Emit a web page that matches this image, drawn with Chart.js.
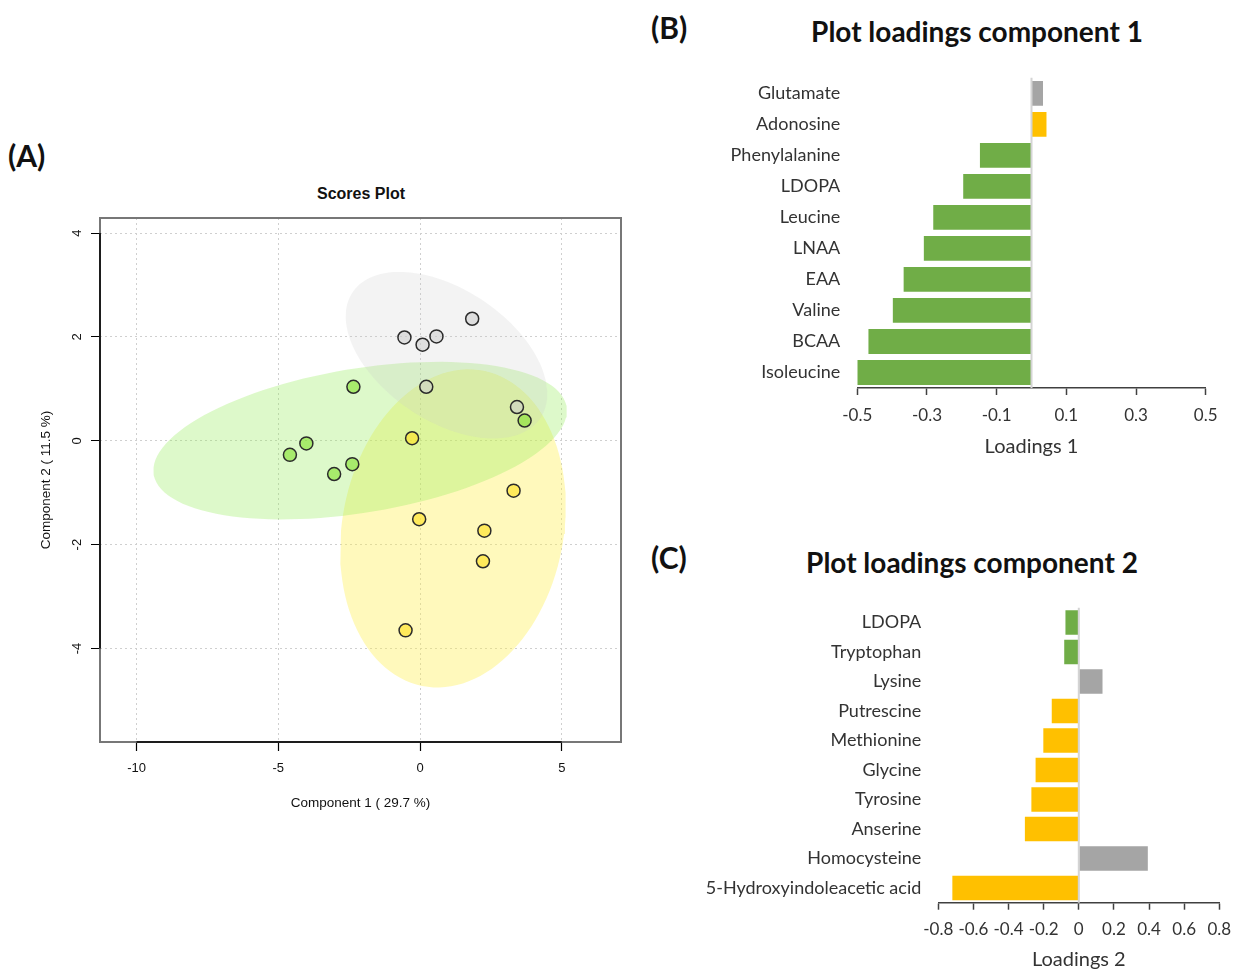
<!DOCTYPE html>
<html>
<head>
<meta charset="utf-8">
<script src="https://cdn.jsdelivr.net/npm/chart.js@4.4.1/dist/chart.umd.min.js"></script>
<style>
  body { margin: 0; background: #fff; width: 1248px; height: 972px; position: relative; overflow: hidden; }
  canvas { position: absolute; }
  .txt { position: absolute; white-space: nowrap; color: #111; }
  .panel { font: bold 30px Lato, sans-serif; line-height: 34px; }
  .head { font: bold 28px Lato, sans-serif; line-height: 34px; width: 500px; text-align: center; }
</style>
</head>
<body>
<div class="txt panel" style="left:8px;top:138px">(A)</div>
<div class="txt panel" style="left:651px;top:10px">(B)</div>
<div class="txt panel" style="left:651px;top:540px">(C)</div>
<div class="txt" style="left:261px;top:184px;width:200px;text-align:center;font:bold 16px 'Liberation Sans',Arial,sans-serif;line-height:20px">Scores Plot</div>
<div class="txt head" style="left:727px;top:14px">Plot loadings component 1</div>
<div class="txt head" style="left:722px;top:545px">Plot loadings component 2</div>

<canvas id="scores" width="640" height="660" style="left:0;top:170px"></canvas>
<canvas id="load1" width="608" height="420" style="left:640px;top:50px"></canvas>
<canvas id="load2" width="608" height="392" style="left:640px;top:580px"></canvas>

<script>
// (A) scores plot, one pair of arrays per group
const scoreXTicks = [-10, -5, 0, 5];
const scoreYTicks = [-4, -2, 0, 2, 4];
const greyX = [-0.55, 0.09, 0.58, 1.84, 0.22, 3.42];
const greyY = [1.99, 1.85, 2.01, 2.35, 1.04, 0.65];
const greenX = [-2.35, -4.01, -4.59, -3.03, -2.39, 3.69];
const greenY = [1.04, -0.05, -0.27, -0.64, -0.45, 0.39];
const yellowX = [-0.28, 3.30, -0.03, 2.27, 2.22, -0.51];
const yellowY = [0.05, -0.96, -1.51, -1.73, -2.32, -3.65];

// (B) loadings component 1
const load1Names = ['Glutamate', 'Adonosine', 'Phenylalanine', 'LDOPA', 'Leucine', 'LNAA', 'EAA', 'Valine', 'BCAA', 'Isoleucine'];
const load1Values = [0.033, 0.043, -0.148, -0.196, -0.282, -0.309, -0.367, -0.398, -0.468, -0.5];
const load1Groups = ['grey', 'yellow', 'green', 'green', 'green', 'green', 'green', 'green', 'green', 'green'];
const load1Ticks = [-0.5, -0.3, -0.1, 0.1, 0.3, 0.5];

// (C) loadings component 2
const load2Names = ['LDOPA', 'Tryptophan', 'Lysine', 'Putrescine', 'Methionine', 'Glycine', 'Tyrosine', 'Anserine', 'Homocysteine', '5-Hydroxyindoleacetic acid'];
const load2Values = [-0.076, -0.083, 0.135, -0.154, -0.202, -0.246, -0.270, -0.307, 0.393, -0.72];
const load2Groups = ['green', 'green', 'grey', 'yellow', 'yellow', 'yellow', 'yellow', 'yellow', 'grey', 'yellow'];
const load2Ticks = [-0.8, -0.6, -0.4, -0.2, 0, 0.2, 0.4, 0.6, 0.8];

const barColors = { green: '#70ad47', yellow: '#ffc000', grey: '#a5a5a5' };

// 95% confidence ellipse, same as R ellipse::ellipse(cov, centre, level = 0.95)
const t95 = Math.sqrt(5.991465);
function ellipsePoints(xs, ys) {
  const n = xs.length;
  const mx = xs.reduce((a, b) => a + b, 0) / n;
  const my = ys.reduce((a, b) => a + b, 0) / n;
  let sxx = 0, syy = 0, sxy = 0;
  for (let i = 0; i < n; i++) {
    sxx += (xs[i] - mx) ** 2;
    syy += (ys[i] - my) ** 2;
    sxy += (xs[i] - mx) * (ys[i] - my);
  }
  const sx = Math.sqrt(sxx / (n - 1)), sy = Math.sqrt(syy / (n - 1));
  const d = Math.acos((sxy / (n - 1)) / (sx * sy));
  const pts = [];
  for (let i = 0; i <= 120; i++) {
    const a = 2 * Math.PI * i / 120;
    pts.push({ x: t95 * sx * Math.cos(a + d / 2) + mx, y: t95 * sy * Math.cos(a - d / 2) + my });
  }
  return pts;
}

function scoreGroup(xs, ys, fill) {
  return {
    data: xs.map((x, i) => ({ x, y: ys[i] })),
    backgroundColor: fill, borderColor: '#2b2b2b', borderWidth: 1.5,
    pointRadius: 6.5
  };
}
function scoreEllipse(xs, ys, fill) {
  return {
    data: ellipsePoints(xs, ys), showLine: true, fill: 'shape',
    backgroundColor: fill, borderColor: 'transparent', borderWidth: 0,
    pointRadius: 0, tension: 0
  };
}

// box + axis lines in base R style
const rFrame = {
  id: 'rFrame',
  afterDatasetsDraw(chart) {
    const { ctx, chartArea: a, scales: { x, y } } = chart;
    ctx.save();
    ctx.strokeStyle = '#777';
    ctx.lineWidth = 2;
    ctx.strokeRect(a.left, a.top, a.right - a.left, a.bottom - a.top);
    ctx.strokeStyle = '#000';
    ctx.lineWidth = 1.5;
    ctx.beginPath();
    ctx.moveTo(x.getPixelForValue(scoreXTicks[0]), a.bottom);
    ctx.lineTo(x.getPixelForValue(scoreXTicks[scoreXTicks.length - 1]), a.bottom);
    ctx.moveTo(a.left, y.getPixelForValue(scoreYTicks[0]));
    ctx.lineTo(a.left, y.getPixelForValue(scoreYTicks[scoreYTicks.length - 1]));
    ctx.stroke();
    ctx.restore();
  }
};

const rFont = { family: "'Liberation Sans', Arial, sans-serif", size: 13 };
const rLabelFont = { family: "'Liberation Sans', Arial, sans-serif", size: 13.5 };

new Chart(document.getElementById('scores'), {
  type: 'scatter',
  data: {
    datasets: [
      scoreGroup(greyX, greyY, 'rgba(205,205,205,0.55)'),
      scoreGroup(greenX, greenY, 'rgba(130,225,45,0.6)'),
      scoreGroup(yellowX, yellowY, 'rgba(255,228,40,0.65)'),
      scoreEllipse(greyX, greyY, 'rgba(200,200,200,0.22)'),
      scoreEllipse(greenX, greenY, 'rgba(150,235,90,0.32)'),
      scoreEllipse(yellowX, yellowY, 'rgba(255,240,80,0.38)')
    ]
  },
  options: {
    responsive: false, animation: false, devicePixelRatio: 1,
    layout: { padding: { left: 0, top: 48, right: 19, bottom: 0 } },
    plugins: { legend: { display: false }, tooltip: { enabled: false } },
    scales: {
      x: {
        type: 'linear', min: -11.29, max: 7.09,
        afterBuildTicks: s => { s.ticks = scoreXTicks.map(v => ({ value: v })); },
        afterFit: s => { s.height = 88; },
        border: { display: false, dash: [2, 3] },
        grid: { color: '#cfcfcf', tickColor: '#000', tickBorderDash: [1, 0], tickLength: 9, tickWidth: 1.2 },
        ticks: { color: '#111', font: rFont, padding: 10, maxRotation: 0 },
        title: { display: true, text: 'Component 1 ( 29.7 %)', color: '#111', font: rLabelFont, padding: { top: 0, bottom: 19 } }
      },
      y: {
        type: 'linear', min: -5.80, max: 4.29,
        afterBuildTicks: s => { s.ticks = scoreYTicks.map(v => ({ value: v })); },
        afterFit: s => { s.width = 100; },
        border: { display: false, dash: [2, 3] },
        grid: { color: '#cfcfcf', tickColor: '#000', tickBorderDash: [1, 0], tickLength: 9, tickWidth: 1.2 },
        ticks: { color: '#111', font: rFont, padding: 8, minRotation: 90, maxRotation: 90, crossAlign: 'center' },
        title: { display: true, text: 'Component 2 ( 11.5 %)', color: '#111', font: rLabelFont, padding: { top: 38, bottom: 0 } }
      }
    }
  },
  plugins: [rFrame]
});

// vertical line at zero, like the Excel category axis
const zeroLine = {
  id: 'zeroLine',
  afterDatasetsDraw(chart) {
    const { ctx, chartArea: a, scales: { x } } = chart;
    const px = x.getPixelForValue(0);
    ctx.save();
    ctx.strokeStyle = '#d4d4d4';
    ctx.lineWidth = 2;
    ctx.beginPath();
    ctx.moveTo(px, a.top);
    ctx.lineTo(px, a.bottom);
    ctx.stroke();
    ctx.restore();
  }
};

const tickFont = { family: 'Lato, sans-serif', size: 17 };
const nameFont = { family: 'Lato, sans-serif', size: 18 };

function loadingsChart(id, names, values, groups, ticks, axisTitle, box) {
  return new Chart(document.getElementById(id), {
    type: 'bar',
    data: {
      labels: names,
      datasets: [{
        data: values,
        backgroundColor: groups.map(g => barColors[g]),
        barPercentage: box.bar, categoryPercentage: 1
      }]
    },
    options: {
      indexAxis: 'y',
      responsive: false, animation: false, devicePixelRatio: 1,
      layout: { padding: { left: 0, top: box.top, right: box.right, bottom: 0 } },
      plugins: { legend: { display: false }, tooltip: { enabled: false } },
      scales: {
        x: {
          type: 'linear', min: ticks[0], max: ticks[ticks.length - 1],
          afterBuildTicks: s => { s.ticks = ticks.map(v => ({ value: v })); },
          afterFit: s => { s.height = box.xh; },
          border: { display: true, color: '#404040', width: 1.5 },
          grid: { drawOnChartArea: false, color: '#404040', tickColor: '#404040', tickLength: 7, tickWidth: 1.5 },
          ticks: { color: '#333', font: tickFont, padding: 10, maxRotation: 0, autoSkip: false,
                   callback: v => String(Math.round(v * 10) / 10) },
          title: { display: true, text: axisTitle, color: '#333', font: { family: 'Lato, sans-serif', size: 20 },
                   padding: { top: 0, bottom: box.tb } }
        },
        y: {
          afterFit: s => { s.width = box.left; },
          border: { display: false },
          grid: { display: false, drawTicks: false },
          ticks: { color: '#333', font: nameFont, padding: 17 }
        }
      }
    },
    plugins: [zeroLine]
  });
}

loadingsChart('load1', load1Names, load1Values, load1Groups, load1Ticks, 'Loadings 1',
  { left: 217.3, right: 42.3, top: 24.8, xh: 82, tb: 11, bar: 0.8 });
loadingsChart('load2', load2Names, load2Values, load2Groups, load2Ticks, 'Loadings 2',
  { left: 298.3, right: 28.7, top: 26, xh: 69.3, tb: 0, bar: 0.83 });
</script>
</body>
</html>
